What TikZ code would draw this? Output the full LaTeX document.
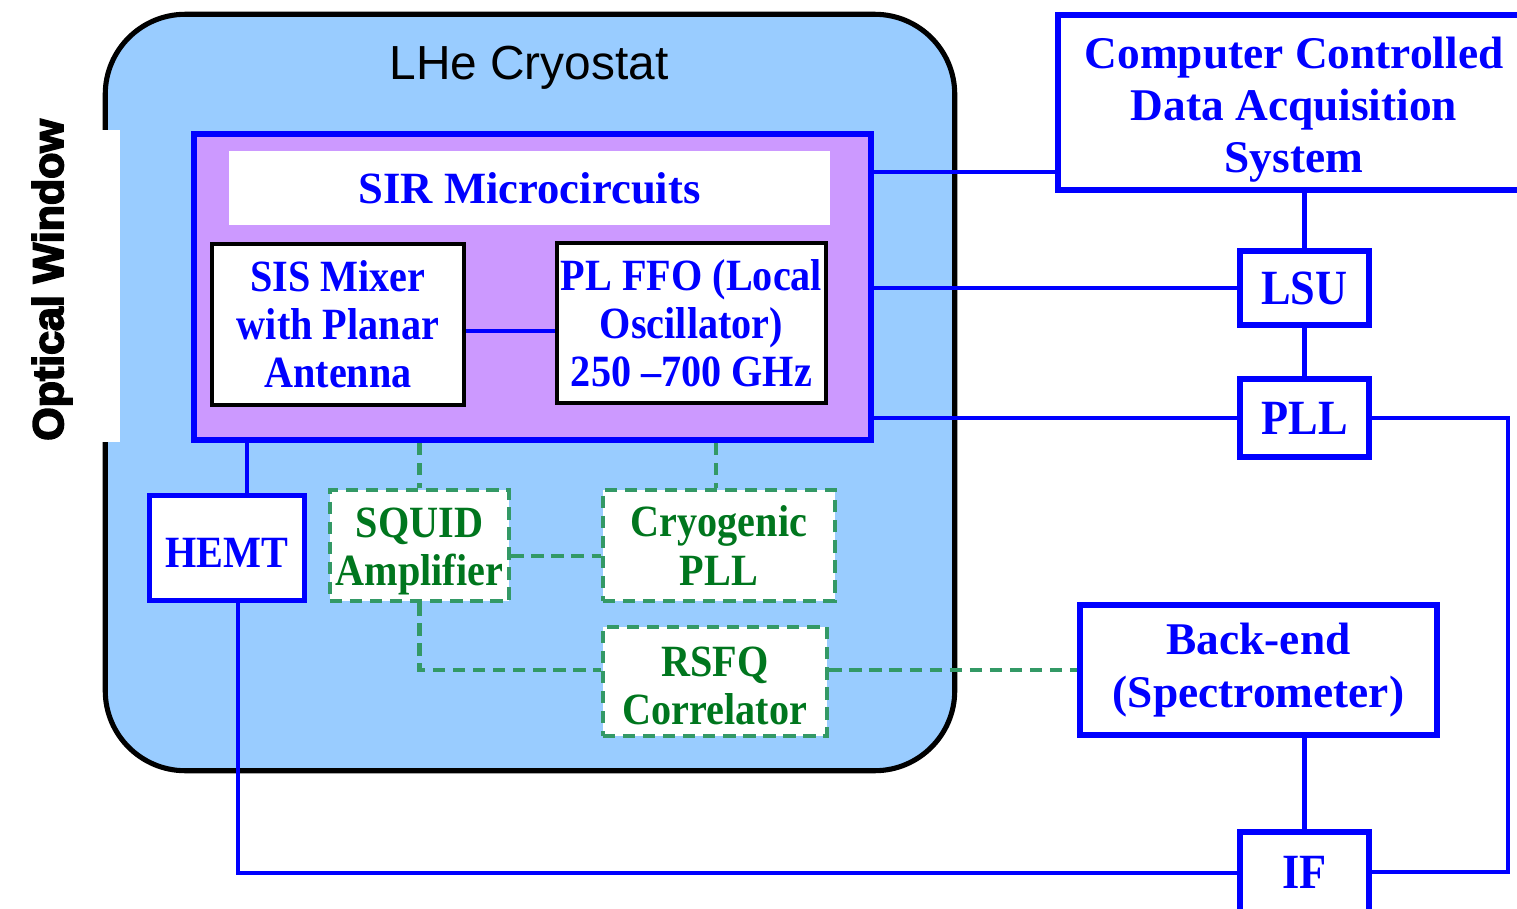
\documentclass[tikz,border=0pt]{standalone}
\usepackage{fontspec}
\setmainfont{Liberation Serif}
\newfontfamily\sansf{Liberation Sans}
\newfontfamily\narrowf[FakeStretch=0.9]{Liberation Serif}
\newfontfamily\owfont[FakeBold=4]{Liberation Sans Bold}
\definecolor{cryoblue}{HTML}{99CCFF}
\definecolor{sirpurple}{HTML}{CC99FF}
\definecolor{lineblue}{HTML}{0000FF}
\definecolor{dashgreen}{HTML}{339966}
\definecolor{textgreen}{HTML}{00761E}
\begin{document}
\begin{tikzpicture}[x=0.01cm,y=-0.01cm,
  txt/.style={font=\bfseries\fontsize{12.7}{13.6}\selectfont,align=center,inner sep=0pt},
  ntxt/.style={font=\narrowf\bfseries\fontsize{12.7}{13.6}\selectfont},
  bluebox/.style={txt,draw=lineblue,line width=1.7pt,fill=white,text=lineblue},
  blackbox/.style={txt,ntxt,draw=black,line width=1.15pt,fill=white,text=lineblue},
  greenbox/.style={txt,draw=dashgreen,line width=1.3pt,dash pattern=on 3.5pt off 2.2pt,fill=white,text=textgreen,font=\narrowf\bfseries\fontsize{12.7}{13.7}\selectfont},
  conn/.style={draw=lineblue,line width=1.3pt},
  gconn/.style={draw=dashgreen,line width=1.3pt,dash pattern=on 3.5pt off 2.2pt}
]
\useasboundingbox (0,0) rectangle (1517,909);
% cryostat
\node[draw=black,line width=1.45pt,fill=cryoblue,rounded corners=0.8cm,minimum width=8.49cm,minimum height=7.56cm,inner sep=0pt] (cryo) at (530,392.5) {};
\node[fill=white,minimum width=0.2cm,minimum height=3.12cm,inner sep=0pt] (window) at (110,286) {};
\node[font=\owfont\fontsize{12.2}{13}\selectfont,rotate=90,inner sep=0pt] (owtext) at (52,280) {Optical Window};
\node[font=\sansf\fontsize{13.6}{15}\selectfont,inner sep=0pt] (title) at (529,68) {LHe Cryostat};
% SIR microcircuits
\node[draw=lineblue,line width=1.7pt,fill=sirpurple,minimum width=6.77cm,minimum height=3.06cm,inner sep=0pt] (sir) at (532.5,287) {};
\node[txt,fill=white,text=lineblue,minimum width=6.01cm,minimum height=0.74cm] (band) at (529.5,188) {SIR Microcircuits};
\node[blackbox,minimum width=2.52cm,minimum height=1.61cm] (sis) at (338,324.5) {SIS Mixer\\with Planar\\Antenna};
\node[blackbox,minimum width=2.69cm,minimum height=1.60cm] (ffo) at (691.5,323) {PL FFO (Local\\Oscillator)\\250 –700 GHz};
% outside boxes
\node[bluebox,font=\bfseries\fontsize{12.9}{14.8}\selectfont,minimum width=4.72cm,minimum height=1.75cm] (comp) at (1294,102.5) {\rule{0pt}{13pt}Computer Controlled\\Data Acquisition\\System};
\node[bluebox,font=\narrowf\bfseries\fontsize{14}{15}\selectfont,minimum width=1.29cm,minimum height=0.74cm] (lsu) at (1304.5,288) {LSU};
\node[bluebox,font=\narrowf\bfseries\fontsize{14}{15}\selectfont,minimum width=1.29cm,minimum height=0.78cm] (pll) at (1304.5,418) {PLL};
\node[bluebox,font=\bfseries\fontsize{12.9}{15}\selectfont,minimum width=3.57cm,minimum height=1.30cm] (be) at (1258.5,670) {Back-end\\(Spectrometer)};
\node[bluebox,font=\narrowf\bfseries\fontsize{14}{15}\selectfont,minimum width=1.29cm,minimum height=0.80cm] (if) at (1304.5,872) {IF};
% inner cryostat boxes
\node[bluebox,ntxt,line width=1.55pt,minimum width=1.55cm,minimum height=1.05cm] (hemt) at (227,548) {\rule{0pt}{11pt}HEMT};
\node[greenbox,minimum width=1.79cm,minimum height=1.11cm] (squid) at (419.5,545.5) {\rule{0pt}{12pt}SQUID\\Amplifier};
\node[greenbox,minimum width=2.32cm,minimum height=1.11cm] (cpll) at (719,545.5) {Cryogenic\\PLL};
\node[greenbox,minimum width=2.24cm,minimum height=1.09cm] (rsfq) at (715,681.5) {\rule{0pt}{11pt}RSFQ\\Correlator};
\coordinate (bl) at (238,873);
\coordinate (rc) at (1508,650);
% blue connectors
\draw[conn] (sis.east |- 0,331) -- (ffo.west |- 0,331);
\draw[conn] (sir.east |- 0,172) -- (comp.west |- 0,172);
\draw[conn] (sir.east |- lsu.west) -- (lsu.west);
\draw[conn] (sir.east |- pll.west) -- (pll.west);
\draw[conn] (comp.south -| lsu.north) -- (lsu.north);
\draw[conn] (lsu.south) -- (pll.north);
\draw[conn] (pll.east) -| (rc) |- (if.east);
\draw[conn] (be.south -| if.north) -- (if.north);
\draw[conn] (sir.south -| 247,0) -- (hemt.north -| 247,0);
\draw[conn] (hemt.south -| bl) -- (bl) -- (if.west |- bl);
% green dashed connectors
\draw[gconn] (sir.south -| squid.north) -- (squid.north);
\draw[gconn] (sir.south -| 716,0) -- (cpll.north -| 716,0);
\draw[gconn] (squid.east |- 0,556) -- (cpll.west |- 0,556);
\draw[gconn] (squid.south) -- (squid.south |- 0,670) -- (rsfq.west |- 0,670);
\draw[gconn] (rsfq.east |- be.west) -- (be.west);
\end{tikzpicture}
\end{document}
